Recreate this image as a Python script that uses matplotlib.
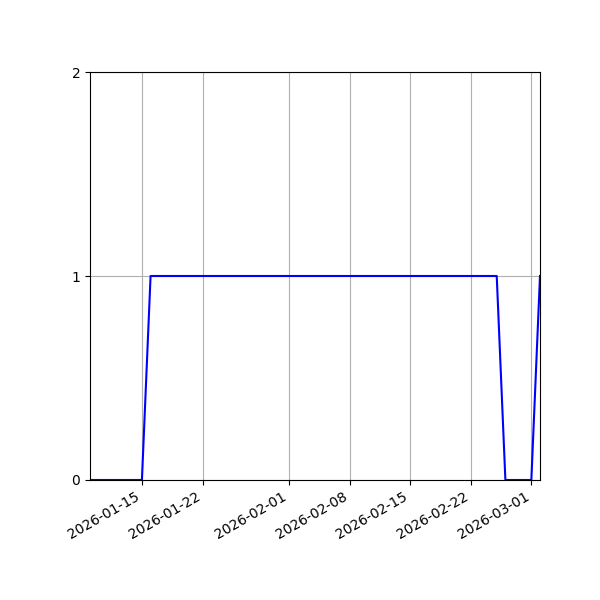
import matplotlib
matplotlib.use("Agg")
import matplotlib.pyplot as plt
import matplotlib.dates as mdates
import pandas as pd

start_date = "2026-01-09"
values = [
    0, 0, 0, 0, 0, 0, 0,                      # 01-09 .. 01-15
    1, 1, 1, 1, 1, 1, 1, 1, 1, 1, 1, 1, 1, 1, 1, 1,  # 01-16 .. 01-31
    1, 1, 1, 1, 1, 1, 1, 1, 1, 1, 1, 1, 1, 1, 1, 1,  # 02-01 .. 02-16
    1, 1, 1, 1, 1, 1, 1, 1, 1,                # 02-17 .. 02-25
    0, 0, 0, 0,                               # 02-26 .. 03-01
    1,                                        # 03-02
]
dates = pd.date_range(start_date, periods=len(values), freq="D")
y_ticks = [0, 1, 2]

fig, ax = plt.subplots(figsize=(6, 6), dpi=100)
fig.subplots_adjust(left=0.15, right=0.9, top=0.88, bottom=0.2)
ax.plot(dates, values, color="blue")
ax.set_xlim(dates[0], dates[-1])
ax.set_ylim(0, 2)
ax.set_yticks(y_ticks)
ax.xaxis.set_major_locator(mdates.DayLocator(bymonthday=[1, 8, 15, 22]))
ax.xaxis.set_major_formatter(mdates.DateFormatter("%Y-%m-%d"))
ax.grid(True)
for lbl in ax.get_xticklabels():
    lbl.set_rotation(30)
    lbl.set_ha("right")
fig.savefig("out.png", dpi=100)
